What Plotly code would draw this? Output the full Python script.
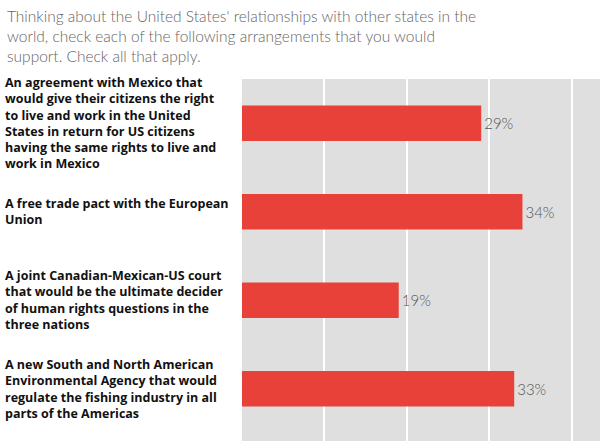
import plotly.graph_objects as go

title_lines = [
    "Thinking about the United States' relationships with other states in the",
    "world, check each of the following arrangements that you would",
    "support. Check all that apply.",
]

arrangements = [
    ["An agreement with Mexico that", "would give their citizens the right",
     "to live and work in the United", "States in return for US citizens",
     "having the same rights to live and", "work in Mexico"],
    ["A free trade pact with the European", "Union"],
    ["A joint Canadian-Mexican-US court", "that would be the ultimate decider",
     "of human rights questions in the", "three nations"],
    ["A new South and North American", "Environmental Agency that would",
     "regulate the fishing industry in all", "parts of the Americas"],
]
support_pct = [29, 34, 19, 33]

ml, mt = 242, 79

fig = go.Figure(go.Bar(
    x=support_pct,
    y=list(range(len(arrangements))),
    orientation="h",
    width=0.4,
    marker=dict(color="#E8413A", line=dict(width=0)),
    text=[f"{v}%" for v in support_pct],
    textposition="outside",
    textfont=dict(family="Lato", size=15, color="#555555", weight=300),
    cliponaxis=False,
    hoverinfo="skip",
))

# category labels, left aligned next to the plot
for i, lines in enumerate(arrangements):
    fig.add_annotation(
        text="<br>".join(lines), xref="paper", yref="y", x=0, y=i,
        xshift=3 - ml, xanchor="left", yanchor="middle", align="left",
        showarrow=False,
        font=dict(family="Open Sans", size=12.5, color="#111111", weight="bold"),
    )

# question text at the top
fig.add_annotation(
    text="<br>".join(title_lines), xref="paper", yref="paper", x=0, y=1,
    xshift=5 - ml, yshift=mt - 5, xanchor="left", yanchor="top", align="left",
    showarrow=False,
    font=dict(family="Lato", size=15.5, color="#666666", weight=300),
)

fig.update_layout(
    width=600, height=441,
    margin=dict(l=ml, r=0, t=mt, b=0),
    paper_bgcolor="white",
    plot_bgcolor="#DFDFDF",
    showlegend=False,
    xaxis=dict(range=[0, 43.4], dtick=10, showticklabels=False,
               gridcolor="white", gridwidth=2, zeroline=False, fixedrange=True),
    yaxis=dict(range=[3.59, -0.5], showticklabels=False, showgrid=False,
               zeroline=False, fixedrange=True),
)

fig.write_html("out.html", config={"displayModeBar": False},
               post_script="document.body.style.margin='0';")
